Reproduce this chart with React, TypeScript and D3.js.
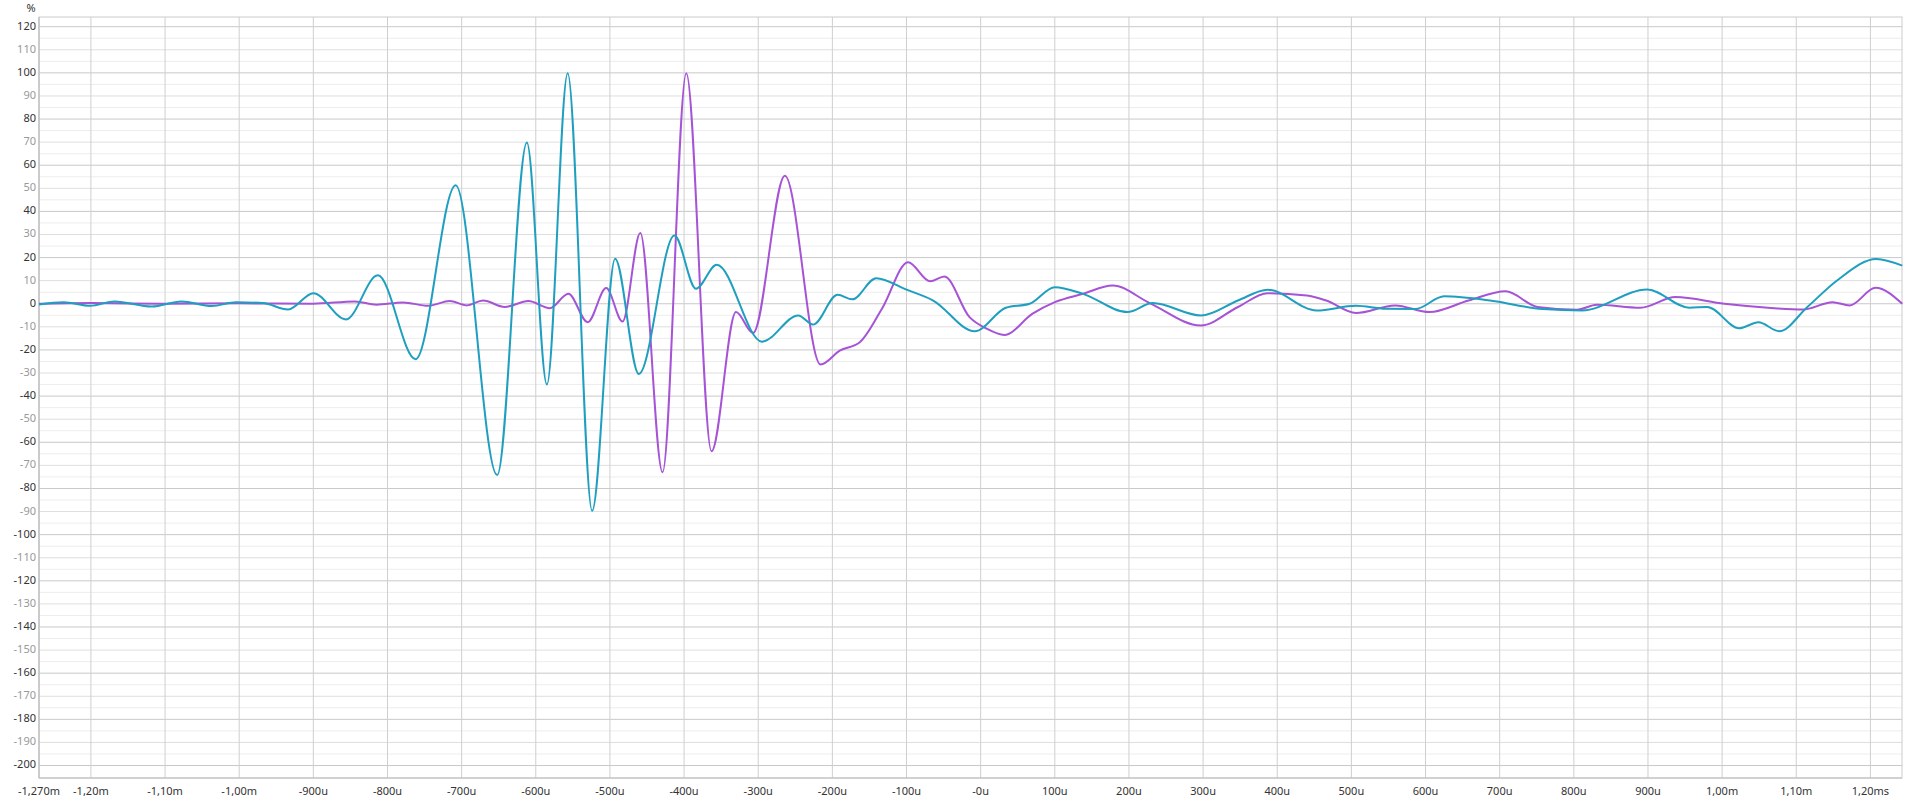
import React from "react";
import * as d3 from "d3";

// time in microseconds, value in %
const tealSeries: [number, number][] = [
  [-1270, -0.3], [-1237, 0.7], [-1201, -0.9], [-1168, 1.0], [-1118, -1.2], [-1078, 1.0],
  [-1037, -1.0], [-1004, 0.7], [-968, 0.3], [-934, -2.5], [-900, 4.6], [-856, -6.8],
  [-813, 12.3], [-762, -24.0], [-708, 51.3], [-652, -74.2], [-612, 69.8], [-585, -35.0],
  [-557, 99.8], [-524, -89.7], [-493, 19.5], [-461, -30.4], [-413, 29.6], [-384, 6.5],
  [-356, 16.9], [-295, -16.4], [-246, -5.1], [-226, -9.0], [-193, 3.9], [-173, 1.9],
  [-141, 11.1], [-100, 6.1], [-64, 1.4], [-8, -11.9], [34, -1.7], [66, 0], [100, 7.2],
  [138, 4.3], [198, -3.6], [232, 0.3], [297, -5.1], [347, 1.4], [387, 6.1], [453, -2.9],
  [506, -0.9], [546, -2.2], [586, -2.3], [625, 3.2], [691, 1.2], [758, -2.3], [811, -2.9],
  [899, 6.2], [956, -1.7], [980, -1.4], [1023, -10.6], [1049, -8.0], [1077, -11.9],
  [1115, -1.4], [1155, 10.1], [1208, 19.4], [1243, 16.5],
];

const purpleSeries: [number, number][] = [
  [-1270, 0], [-1200, 0.3], [-1100, 0], [-1000, 0.2], [-900, 0], [-844, 1.0], [-815, -0.4],
  [-779, 0.6], [-745, -0.9], [-716, 1.2], [-693, -0.7], [-671, 1.4], [-642, -1.4],
  [-610, 1.2], [-581, -1.9], [-556, 4.3], [-530, -8.0], [-505, 6.8], [-483, -7.7],
  [-459, 30.6], [-429, -73.0], [-397, 99.8], [-363, -63.9], [-330, -3.6], [-307, -12.7],
  [-264, 55.4], [-216, -26.3], [-190, -20.3], [-163, -16.7], [-132, -1.5], [-98, 18.0],
  [-68, 9.7], [-49, 11.8], [-15, -5.8], [8, -10.8], [32, -13.5], [70, -4.3], [100, 0.7],
  [138, 4.3], [178, 7.9], [228, 0.3], [297, -9.4], [347, -1.4], [387, 4.6], [440, 3.6],
  [466, 1.4], [506, -4.0], [559, -0.7], [605, -3.6], [658, 1.4], [708, 5.4], [751, -1.4],
  [804, -2.6], [831, -0.4], [890, -1.7], [937, 2.9], [1003, 0], [1062, -1.7], [1109, -2.5],
  [1149, 0.7], [1172, -0.7], [1207, 6.9], [1243, 0],
];

const xTickValues = [-1270, -1200, -1100, -1000, -900, -800, -700, -600, -500, -400, -300, -200, -100, 0,
  100, 200, 300, 400, 500, 600, 700, 800, 900, 1000, 1100, 1200];
const xTickLabels = ["-1,270m", "-1,20m", "-1,10m", "-1,00m", "-900u", "-800u", "-700u", "-600u", "-500u",
  "-400u", "-300u", "-200u", "-100u", "-0u", "100u", "200u", "300u", "400u", "500u", "600u", "700u",
  "800u", "900u", "1,00m", "1,10m", "1,20ms"];

const yTickValues = [120, 110, 100, 90, 80, 70, 60, 50, 40, 30, 20, 10, 0, -10, -20, -30, -40, -50, -60,
  -70, -80, -90, -100, -110, -120, -130, -140, -150, -160, -170, -180, -190, -200];
const yMinorValues = [115, 105, 95, 85, 75, 65, 55, 45, 35, 25, 15, 5, -5, -15, -25, -35, -45, -55, -65,
  -75, -85, -95, -105, -115, -125, -135, -145, -155, -165, -175, -185, -195];

const W = 1920, H = 802;
const L = 39, R = 1902, T = 17, B = 778;
const FONT = "'Noto Sans', 'Open Sans', sans-serif";

export default function App() {
  const x = d3.scaleLinear().domain([-1270, 1242.6]).range([L, R]);
  const y = d3.scaleLinear().domain([-205.4, 124.2]).range([B, T]);
  const line = d3.line<[number, number]>()
    .x((d) => x(d[0]))
    .y((d) => y(d[1]))
    .curve(d3.curveMonotoneX);

  return (
    <svg width={W} height={H} style={{ position: "absolute", left: 0, top: 0, background: "#fff" }}
      fontFamily={FONT}>
      <rect x={0} y={0} width={W} height={H} fill="#fff" />
      {yMinorValues.map((v) => (
        <line key={"m" + v} x1={L} x2={R} y1={y(v)} y2={y(v)} stroke="#ededed" strokeWidth={1} />
      ))}
      {yTickValues.map((v) => (
        <line key={"g" + v} x1={L} x2={R} y1={y(v)} y2={y(v)}
          stroke={v % 20 === 0 ? "#c9c9c9" : "#dedede"} strokeWidth={1} />
      ))}
      {xTickValues.map((t) => (
        <line key={"v" + t} x1={x(t)} x2={x(t)} y1={T} y2={B} stroke="#cfcfcf" strokeWidth={1} />
      ))}
      <rect x={L} y={T} width={R - L} height={B - T} fill="none" stroke="#cccccc" strokeWidth={1} />
      <line x1={L} x2={L} y1={T} y2={B} stroke="#bdbdbd" />
      <line x1={L} x2={R} y1={B} y2={B} stroke="#bdbdbd" />

      <path d={line(purpleSeries) || ""} fill="none" stroke="#a653d6" strokeWidth={2} />
      <path d={line(tealSeries) || ""} fill="none" stroke="#1f9fbf" strokeWidth={2} />

      <text x={31} y={9} fontSize={11} textAnchor="middle" dominantBaseline="middle" fill="#333">%</text>
      {yTickValues.map((v) => (
        <text key={"yl" + v} x={36} y={y(v)} fontSize={11} textAnchor="end" dominantBaseline="middle"
          fill={v % 20 === 0 ? "#333" : "#999"}>{v}</text>
      ))}
      {xTickValues.map((t, i) => (
        <text key={"xl" + t} x={x(t)} y={795} fontSize={11} textAnchor="middle" fill="#333">
          {xTickLabels[i]}
        </text>
      ))}
    </svg>
  );
}
